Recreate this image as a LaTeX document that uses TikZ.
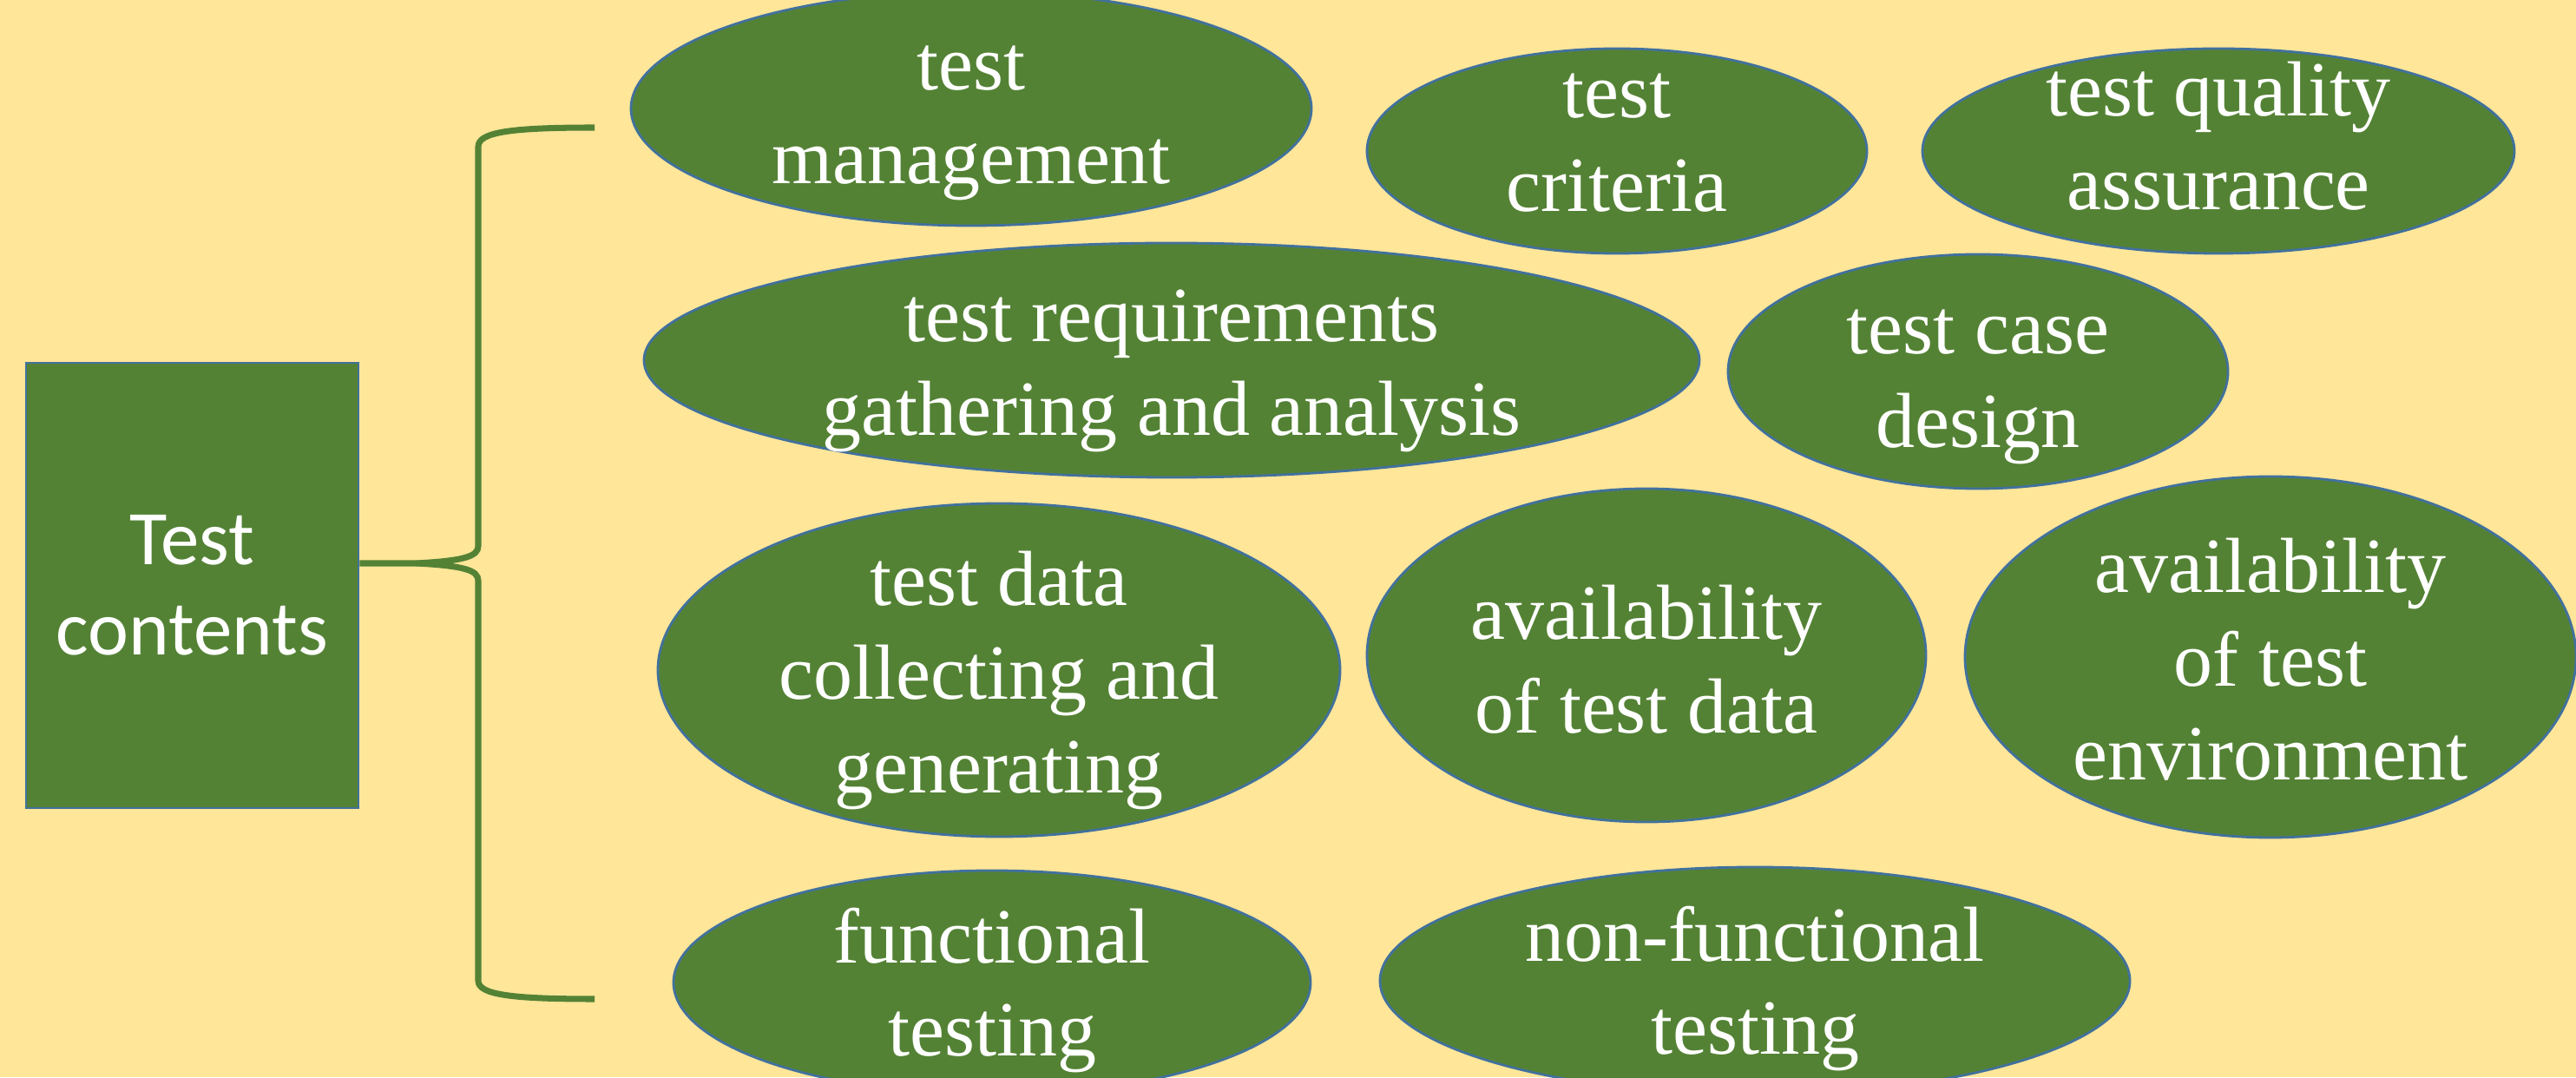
\documentclass[tikz,border=0pt]{standalone}
\usepackage{fontspec}
\setmainfont{Liberation Serif}
\newfontfamily\boxfont{Carlito}
\usepackage{tikz}
\usetikzlibrary{shapes.geometric}
\definecolor{bgyellow}{HTML}{FFE699}
\definecolor{leafgreen}{HTML}{548235}
\definecolor{rimblue}{HTML}{41719C}

\tikzset{
  topic/.style={ellipse, fill=leafgreen, draw=rimblue, line width=0.8pt, inner sep=0pt},
  blurb/.style={text=white, align=center, inner sep=0pt, font=\fontsize{25.6}{30.7}\selectfont},
  rootbox/.style={rectangle, fill=leafgreen, draw=rimblue, line width=0.8pt, inner sep=0pt,
    text=white, align=center, font=\boxfont\fontsize{25.3}{29.6}\selectfont},
  bracket/.style={draw=leafgreen, line width=2pt}
}

\begin{document}
\begin{tikzpicture}
\def\W{29.68};\def\H{12.41};
\useasboundingbox (0,0) rectangle (\W,\H);
\clip (0,0) rectangle (\W,\H);
\fill[bgyellow] (0,0) rectangle (\W,\H);
% root
\node[rootbox, minimum width=3.83cm, minimum height=5.13cm] (root) at (2.215,5.665) {Test\\contents};
% brace
\coordinate (tip) at (4.80,5.92);
\coordinate (topend) at (6.85,10.94);
\coordinate (botend) at (6.85,0.90);
\draw[bracket] (root.east |- tip) -- (tip)
  .. controls (5.35,5.95) and (5.51,6.00) .. (5.51,6.12) -- (5.51,10.72)
  .. controls (5.51,10.89) and (5.90,10.94) .. (topend);
\draw[bracket] (tip)
  .. controls (5.35,5.89) and (5.51,5.84) .. (5.51,5.72) -- (5.51,1.11)
  .. controls (5.51,0.95) and (5.90,0.90) .. (botend);
% first row
\node[topic, minimum width=7.84cm, minimum height=2.70cm,
  label={[blurb, yshift=-0.17cm]center:test\\management}] (mgmt) at (11.19,11.16) {};
\node[topic, minimum width=5.76cm, minimum height=2.36cm,
  label={[blurb, yshift=0.09cm]center:test\\criteria}] (crit) at (18.63,10.67) {};
\node[topic, minimum width=6.82cm, minimum height=2.36cm,
  label={[blurb, yshift=0.17cm]center:test quality\\assurance}] (qual) at (25.56,10.67) {};
% second row
\node[topic, minimum width=12.16cm, minimum height=2.70cm,
  label={[blurb, yshift=-0.12cm]center:test requirements\\gathering and analysis}] (reqs) at (13.50,8.26) {};
\node[topic, minimum width=5.76cm, minimum height=2.70cm,
  label={[blurb, yshift=-0.18cm]center:test case\\design}] (case) at (22.79,8.13) {};
% third row
\node[topic, minimum width=7.86cm, minimum height=3.84cm,
  label={[blurb, yshift=-0.12cm]center:test data\\collecting and\\generating}] (tdata) at (11.51,4.69) {};
\node[topic, minimum width=6.44cm, minimum height=3.84cm,
  label={[blurb, yshift=-0.05cm]center:availability\\of test data}] (avdata) at (18.97,4.86) {};
\node[topic, minimum width=7.04cm, minimum height=4.16cm,
  label={[blurb, yshift=-0.03cm]center:availability\\of test\\environment}] (avenv) at (26.16,4.84) {};
% fourth row
\node[topic, minimum width=7.34cm, minimum height=2.58cm,
  label={[blurb, yshift=-0.09cm]center:functional\\testing}] (func) at (11.43,1.09) {};
\node[topic, minimum width=8.64cm, minimum height=2.62cm,
  label={[blurb, yshift=-0.09cm]center:non-functional\\testing}] (nfunc) at (20.22,1.11) {};
\end{tikzpicture}
\end{document}
